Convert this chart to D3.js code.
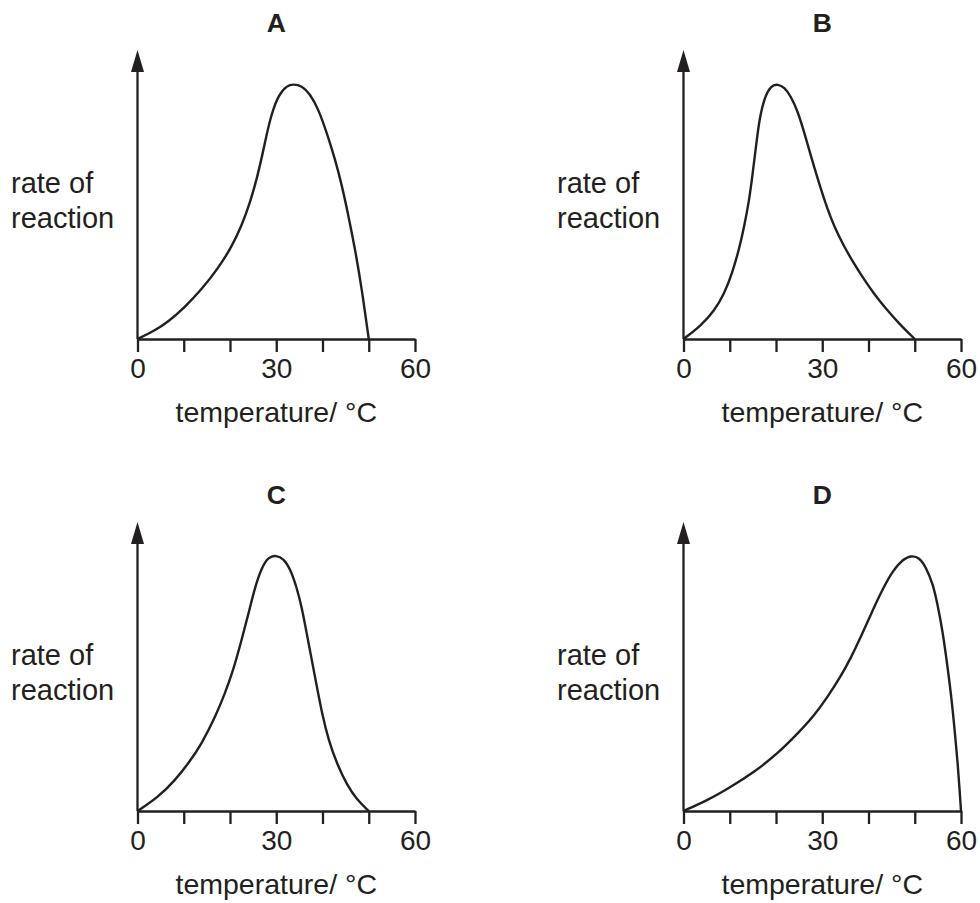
<!DOCTYPE html>
<html>
<head>
<meta charset="utf-8">
<script src="https://cdn.jsdelivr.net/npm/d3@7"></script>
<style>
  html, body { margin: 0; padding: 0; background: #fff; }
  svg { display: block; }
  text { font-family: "Liberation Sans", Arial, sans-serif; fill: #231f20; }
</style>
</head>
<body>
<svg id="chart" width="980" height="903"></svg>
<script>
// ---- data ----
const panelTitles = ["A", "B", "C", "D"];
const tickValues = [0, 10, 20, 30, 40, 50, 60];
const tickLabels = ["0", "", "", "30", "", "", "60"];
const yLabelLines = ["rate of", "reaction"];
const xLabel = "temperature/ \u00B0C";

const tempA = [0, 3.75, 6.6, 10.1, 13.9, 17.5, 20.4, 22.5, 24.3, 25.8, 26.9, 27.9, 29.0, 30.5, 32.3, 33.7, 35.5, 37.3, 39.1, 40.9, 42.7, 44.2, 45.6, 47.1, 48.5, 50];
const rateA = [0, 2.9, 5.9, 10.8, 17.2, 24.6, 32.0, 39.2, 47.0, 55.5, 63.0, 70.6, 78.0, 84.5, 87.7, 88.2, 87.7, 84.8, 79.6, 71.5, 62.3, 53.1, 42.7, 30.6, 17.3, 0];

const tempB = [0, 3.75, 6.6, 8.8, 10.6, 12.1, 13.1, 14.2, 14.9, 15.7, 16.4, 17.5, 18.9, 20.4, 21.8, 23.2, 24.7, 26.1, 27.6, 29.0, 31.2, 32.8, 34.4, 36.5, 38.8, 41.2, 43.8, 46.8, 50];
const rateB = [0, 4.6, 9.6, 15.6, 23.1, 31.6, 38.8, 48.0, 56.6, 67.0, 76.0, 83.6, 87.7, 88.2, 87.1, 84.0, 78.8, 71.5, 63.0, 55.5, 44.5, 38.2, 33.0, 27.0, 21.2, 15.6, 10.4, 5.0, 0];

const tempC = [0, 4.5, 8.1, 11.0, 13.9, 16.8, 18.9, 20.7, 22.5, 24.0, 25.4, 26.9, 28.3, 30.0, 31.6, 33.0, 34.4, 35.5, 36.6, 37.7, 38.8, 39.9, 41.3, 43.1, 45.3, 47.4, 50];
const rateC = [0, 4.8, 10.6, 16.4, 23.3, 32.5, 40.6, 48.7, 59.1, 68.3, 77.5, 84.4, 87.9, 88.5, 87.3, 83.9, 77.5, 70.6, 61.4, 52.1, 42.9, 33.7, 24.5, 16.4, 9.0, 4.0, 0];

const tempD = [0, 5.2, 10.2, 15.3, 20.3, 24.7, 28.3, 31.2, 34.0, 36.2, 38.4, 40.5, 42.7, 44.8, 47.0, 49.2, 51.0, 52.4, 53.9, 54.9, 56.0, 57.1, 58.0, 58.7, 59.3, 59.7, 60];
const rateD = [0, 3.7, 8.3, 13.5, 19.8, 26.8, 33.1, 39.6, 46.6, 53.0, 60.4, 68.0, 75.6, 82.0, 86.6, 88.5, 87.7, 84.4, 78.7, 71.7, 62.5, 49.8, 38.3, 26.8, 16.4, 7.2, 0];

const temps = [tempA, tempB, tempC, tempD];
const rates = [rateA, rateB, rateC, rateD];

// ---- layout ----
const ink = "#231f20";
const panelX = [137.5, 683.5, 137.5, 683.5];
const panelY = [339, 339, 811, 811];
const axisW = 277.5;
const axisH = 289;

const svg = d3.select("#chart");

panelTitles.forEach((title, i) => {
  const x0 = panelX[i], y0 = panelY[i];
  const x = d3.scaleLinear().domain([0, 60]).range([x0, x0 + axisW]);
  const y = d3.scaleLinear().domain([0, 100]).range([y0, y0 - axisH]);
  const g = svg.append("g");

  // y axis with arrow
  g.append("line")
    .attr("x1", x(0)).attr("x2", x(0))
    .attr("y1", y(0)).attr("y2", y(100) + 20)
    .attr("stroke", ink).attr("stroke-width", 2.3);
  g.append("path")
    .attr("d", `M${x(0)},${y(100)} L${x(0) - 6.5},${y(100) + 22} L${x(0) + 6.5},${y(100) + 22} Z`)
    .attr("fill", ink);

  // x axis
  const xAxis = d3.axisBottom(x)
    .tickValues(tickValues)
    .tickFormat((d, k) => tickLabels[k])
    .tickSize(13)
    .tickSizeOuter(0)
    .tickPadding(6);
  const ax = g.append("g").attr("transform", `translate(0,${y0})`).call(xAxis);
  ax.select(".domain").attr("stroke", ink).attr("stroke-width", 2.3);
  ax.selectAll(".tick line").attr("stroke", ink).attr("stroke-width", 2.3);
  ax.selectAll(".tick text")
    .attr("fill", ink)
    .style("font-family", "'Liberation Sans', Arial, sans-serif")
    .style("font-size", "28px");

  // curve
  const pts = temps[i].map((t, k) => [t, rates[i][k]]);
  g.append("path")
    .datum(pts)
    .attr("fill", "none")
    .attr("stroke", ink)
    .attr("stroke-width", 2.4)
    .attr("stroke-linejoin", "round")
    .attr("d", d3.line().x(d => x(d[0])).y(d => y(d[1])).curve(d3.curveBasis));

  // title
  g.append("text")
    .attr("x", x(30)).attr("y", y0 - 307)
    .attr("text-anchor", "middle")
    .style("font-size", "26.5px").style("font-weight", "bold")
    .text(title);

  // y label
  yLabelLines.forEach((line, k) => {
    g.append("text")
      .attr("x", x0 - 126.5).attr("y", y0 - 146.3 + k * 35.6)
      .style("font-size", "29px")
      .text(line);
  });

  // x label
  g.append("text")
    .attr("x", x(30)).attr("y", y0 + 82.5)
    .attr("text-anchor", "middle")
    .style("font-size", "28.5px")
    .text(xLabel);
});
</script>
</body>
</html>
